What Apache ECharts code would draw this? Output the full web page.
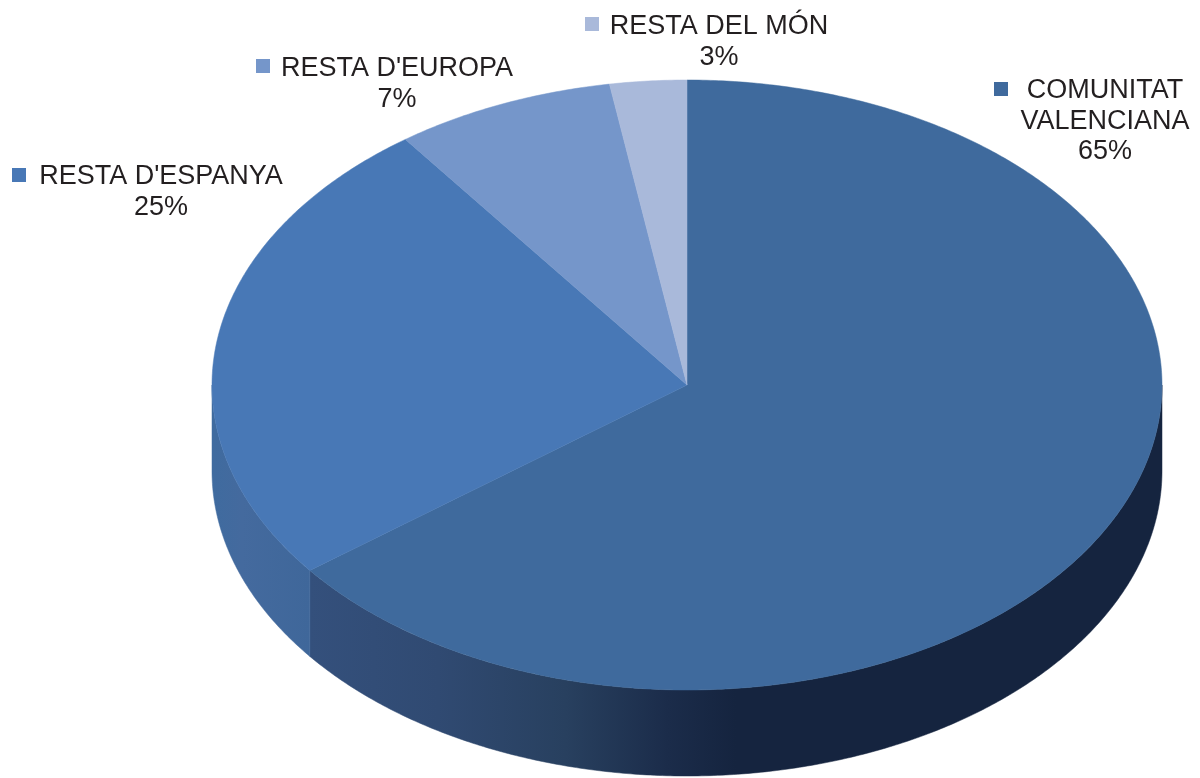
<!DOCTYPE html>
<html><head><meta charset="utf-8">
<script src="https://cdn.jsdelivr.net/npm/echarts@6/dist/echarts.min.js"></script>
<style>html,body{margin:0;padding:0;background:#fff}#c{width:1200px;height:778px}</style>
</head><body><div id="c"></div>
<script>
// Data
const categoryLines = [['COMUNITAT','VALENCIANA'],["RESTA D'ESPANYA"],["RESTA D'EUROPA"],['RESTA DEL MÓN']];
const shares = [64.6, 25.3, 7.49, 2.61];
// Styles
const topColors = ['#3f6a9d','#4878b6','#7596ca','#a9b9da'];
const wallStops = [
  [[0,'#34507c'],[0.15,'#304a72'],[0.3,'#28405f'],[0.42,'#1b2c4a'],[0.5,'#15243f'],[1,'#15243f']],
  [[0,'#3f6b9f'],[0.3,'#446a9e'],[1,'#3f679a']],
  [[0,'#7596ca'],[1,'#7596ca']],
  [[0,'#a9b9da'],[1,'#a9b9da']]
];
// Layout
const CX=687, CY=385, RX=475, RY=305, DEPTH=86;
const labelLayout = [
  {key:[994,82],  cx:1105, y:91},
  {key:[12,168],  cx:161,  y:177},
  {key:[256,59],  cx:397,  y:69},
  {key:[585,17],  cx:719,  y:27}
];
const FONT = '27px "Liberation Sans", Arial, sans-serif', LINE=30.5, KEY=14;

const total = shares.reduce((a,b)=>a+b,0);
const starts = shares.map((_,i)=>shares.slice(0,i).reduce((a,b)=>a+b,0)/total*Math.PI*2);
const px = a => CX + RX*Math.sin(a);
const py = a => CY - RY*Math.cos(a);
function arc(a0,a1,dy){
  const n=Math.max(2,Math.ceil((a1-a0)*120)), pts=[];
  for(let k=0;k<=n;k++){const a=a0+(a1-a0)*k/n; pts.push([px(a),py(a)+dy]);}
  return pts;
}
function wall(params,api){
  const i=params.dataIndex, a0=starts[i], a1=a0+api.value(0)/total*Math.PI*2;
  const lo=Math.max(a0,Math.PI/2), hi=Math.min(a1,Math.PI*1.5);
  if(hi<=lo) return {type:'group',children:[]};
  const top=arc(lo,hi,0), bot=arc(lo,hi,DEPTH).reverse();
  const xs=top.map(p=>p[0]), x0=Math.min(...xs), x1=Math.max(...xs);
  const fill={type:'linear',global:true,x:x0,y:0,x2:x1,y2:0,colorStops:wallStops[i].map(s=>({offset:s[0],color:s[1]}))};
  return {type:'polygon',shape:{points:top.concat(bot)},style:{fill,stroke:fill,lineWidth:0.5}};
}
function face(params,api){
  const i=params.dataIndex, a0=starts[i], a1=a0+api.value(0)/total*Math.PI*2;
  return {type:'polygon',shape:{points:[[CX,CY]].concat(arc(a0,a1,0))},
    style:{fill:topColors[i],stroke:topColors[i],lineWidth:0.5}};
}
function label(params,api){
  const i=params.dataIndex, L=labelLayout[i];
  const lines=categoryLines[i].concat([Math.round(api.value(0))+'%']);
  const children=[{type:'rect',shape:{x:L.key[0],y:L.key[1],width:KEY,height:KEY},style:{fill:topColors[i]}}];
  lines.forEach((t,k)=>children.push({type:'text',x:L.cx,y:L.y+k*LINE,
    style:{text:t,x:0,y:0,align:'center',verticalAlign:'middle',font:FONT,fill:'#231f20'}}));
  return {type:'group',children};
}
const chart=echarts.init(document.getElementById('c'),null,{renderer:'canvas'});
const mk=(renderItem,z)=>({type:'custom',coordinateSystem:'none',renderItem,data:shares,z,silent:true,animation:false});
chart.setOption({animation:false,backgroundColor:'#fff',series:[mk(wall,1),mk(face,2),mk(label,3)]});
</script></body></html>
